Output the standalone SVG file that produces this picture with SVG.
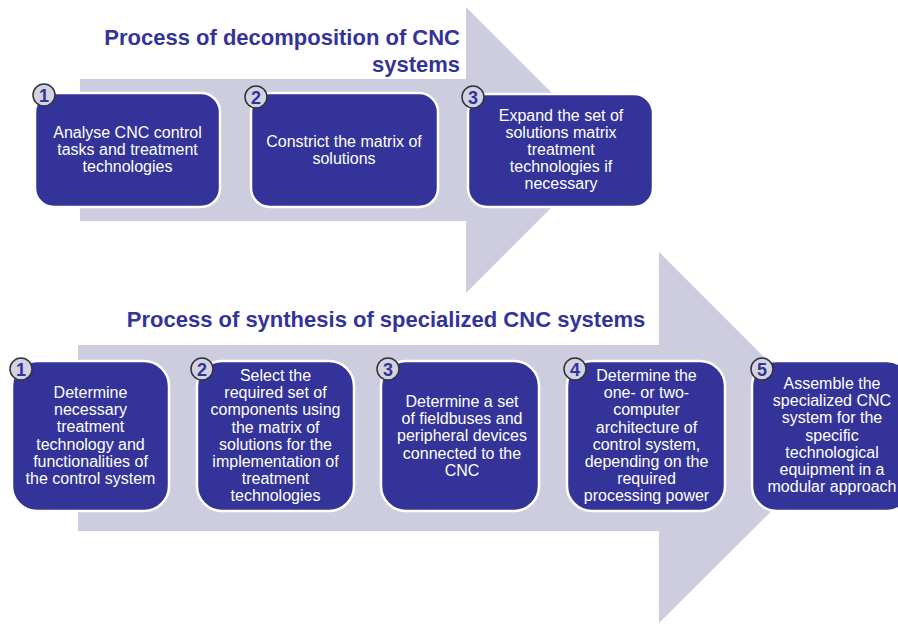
<svg xmlns="http://www.w3.org/2000/svg" width="898" height="624" viewBox="0 0 898 624">
<style>
.arrow{fill:#cdcddf;}
.box{fill:#333399;stroke:#ffffff;stroke-width:2.5;}
.badge{fill:#d2d2e2;stroke:#333333;stroke-width:1.5;}
.num{font-family:"Liberation Sans",Arial,sans-serif;font-weight:bold;font-size:18px;fill:#333399;text-anchor:middle;}
.txt{font-family:"Liberation Sans",Arial,sans-serif;font-size:16px;fill:#ffffff;text-anchor:middle;}
.title{font-family:"Liberation Sans",Arial,sans-serif;font-weight:bold;font-size:22px;fill:#333399;}
</style>
<rect x="0" y="0" width="898" height="624" fill="#ffffff"/>
<g id="connectors">
<polygon id="arrow-top" class="arrow" points="80,79 466,79 466,7 609,150 466,293 466,221 80,221"/>
<polygon id="arrow-bottom" class="arrow" points="78,345 659,345 659,252 845,438 659,623 659,531 78,531"/>
</g>
<text id="title-top" class="title" text-anchor="end"><tspan x="460" y="45">Process of decomposition of CNC</tspan><tspan x="460" y="72">systems</tspan></text>
<text id="title-bottom" class="title" text-anchor="middle" x="386" y="327">Process of synthesis of specialized CNC systems</text>

<g id="d1">
<rect class="box" x="35" y="93" width="185" height="114" rx="19"/>
<text class="txt"><tspan x="127.5" y="138">Analyse CNC control</tspan><tspan x="127.5" y="155">tasks and treatment</tspan><tspan x="127.5" y="172">technologies</tspan></text>
<circle class="badge" cx="44" cy="95" r="11"/><text class="num" x="44" y="101.5">1</text>
</g>
<g id="d2">
<rect class="box" x="251" y="93" width="187" height="114" rx="19"/>
<text class="txt"><tspan x="344" y="147">Constrict the matrix of</tspan><tspan x="344" y="164">solutions</tspan></text>
<circle class="badge" cx="256" cy="97" r="11"/><text class="num" x="256" y="103.5">2</text>
</g>
<g id="d3">
<rect class="box" x="468" y="94" width="185" height="113" rx="19"/>
<text class="txt"><tspan x="561" y="120.5">Expand the set of</tspan><tspan x="561" y="137.7">solutions matrix</tspan><tspan x="561" y="154.9">treatment</tspan><tspan x="561" y="172.1">technologies if</tspan><tspan x="561" y="189.3">necessary</tspan></text>
<circle class="badge" cx="473" cy="97" r="11"/><text class="num" x="473" y="103.5">3</text>
</g>

<g id="s1">
<rect class="box" x="12" y="361" width="157" height="150" rx="25"/>
<text class="txt"><tspan x="90.5" y="398">Determine</tspan><tspan x="90.5" y="415.2">necessary</tspan><tspan x="90.5" y="432.4">treatment</tspan><tspan x="90.5" y="449.6">technology and</tspan><tspan x="90.5" y="466.8">functionalities of</tspan><tspan x="90.5" y="484">the control system</tspan></text>
<circle class="badge" cx="21" cy="369" r="11"/><text class="num" x="21" y="375.5">1</text>
</g>
<g id="s2">
<rect class="box" x="197" y="361" width="157" height="150" rx="25"/>
<text class="txt"><tspan x="275.5" y="381">Select the</tspan><tspan x="275.5" y="398.2">required set of</tspan><tspan x="275.5" y="415.4">components using</tspan><tspan x="275.5" y="432.6">the matrix of</tspan><tspan x="275.5" y="449.8">solutions for the</tspan><tspan x="275.5" y="467">implementation of</tspan><tspan x="275.5" y="484.2">treatment</tspan><tspan x="275.5" y="501.4">technologies</tspan></text>
<circle class="badge" cx="202" cy="369" r="11"/><text class="num" x="202" y="375.5">2</text>
</g>
<g id="s3">
<rect class="box" x="381" y="361" width="158" height="150" rx="25"/>
<text class="txt"><tspan x="462" y="407">Determine a set</tspan><tspan x="462" y="424.2">of fieldbuses and</tspan><tspan x="462" y="441.4">peripheral devices</tspan><tspan x="462" y="458.6">connected to the</tspan><tspan x="462" y="475.8">CNC</tspan></text>
<circle class="badge" cx="388" cy="369" r="11"/><text class="num" x="388" y="375.5">3</text>
</g>
<g id="s4">
<rect class="box" x="567" y="361" width="158" height="150" rx="25"/>
<text class="txt"><tspan x="646.5" y="381">Determine the</tspan><tspan x="646.5" y="398.2">one- or two-</tspan><tspan x="646.5" y="415.4">computer</tspan><tspan x="646.5" y="432.6">architecture of</tspan><tspan x="646.5" y="449.8">control system,</tspan><tspan x="646.5" y="467">depending on the</tspan><tspan x="646.5" y="484.2">required</tspan><tspan x="646.5" y="501.4">processing power</tspan></text>
<circle class="badge" cx="575" cy="369" r="11"/><text class="num" x="575" y="375.5">4</text>
</g>
<g id="s5">
<rect class="box" x="752" y="361" width="160" height="150" rx="25"/>
<text class="txt"><tspan x="832" y="389">Assemble the</tspan><tspan x="832" y="406.2">specialized CNC</tspan><tspan x="832" y="423.4">system for the</tspan><tspan x="832" y="440.6">specific</tspan><tspan x="832" y="457.8">technological</tspan><tspan x="832" y="475">equipment in a</tspan><tspan x="832" y="492.2">modular approach</tspan></text>
<circle class="badge" cx="762" cy="369" r="11"/><text class="num" x="762" y="375.5">5</text>
</g>
</svg>
